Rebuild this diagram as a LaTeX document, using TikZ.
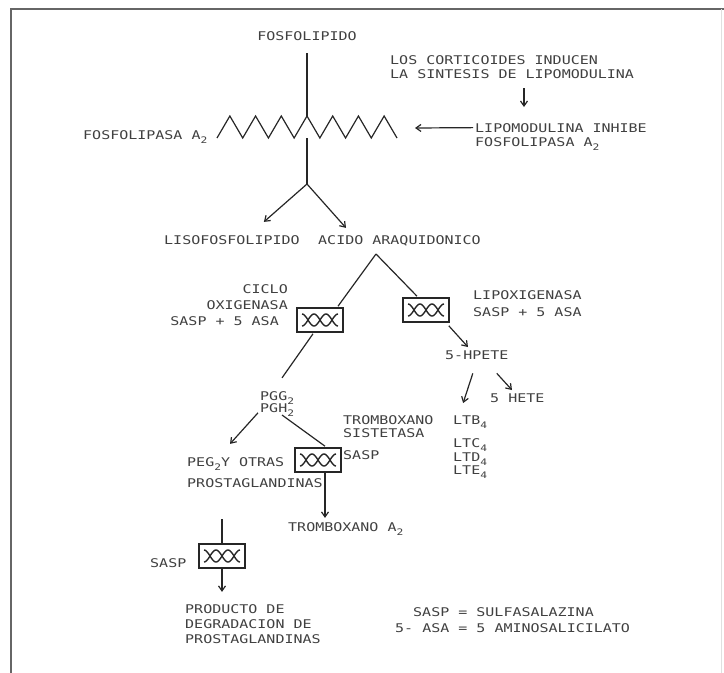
\documentclass[tikz,border=0pt]{standalone}
\usepackage{fontspec}
\usetikzlibrary{arrows.meta,calc}
\newfontfamily\labfont[FakeStretch=1.25]{DejaVu Sans Mono}
\newcommand\lsb[1]{\raisebox{-4.5pt}{\fontsize{9}{9}\selectfont #1}}
\newcommand\enzwave[1]{%
  \begin{scope}[shift={(#1.center)}]
    \draw[wav] plot[domain=-18:18,samples=45,smooth] (\x,{6*sin(15*\x)});
    \draw[wav] plot[domain=-18:18,samples=45,smooth] (\x,{-6*sin(15*\x)});
  \end{scope}}
\begin{document}
\begin{tikzpicture}[x=1pt,y=-1pt,
  lab/.style={inner sep=0pt, font=\labfont\fontsize{12}{14}\selectfont, text=black!75},
  ln/.style={draw=black!85, line width=1.2pt},
  arr/.style={ln, -{Straight Barb[length=5pt,width=7pt]}},
  enz/.style={draw=black!85, line width=1.6pt, minimum width=46pt, minimum height=24pt, inner sep=0pt},
  wav/.style={draw=black!85, line width=1.4pt},
  frm/.style={draw=black!60, line width=1.8pt}]
\useasboundingbox (0,0) rectangle (724,673);
% frame
\draw[frm] (11,673) -- (11,9) -- (724,9);
\draw[draw=black!12, line width=1pt] (721,9) -- (721,673);

% texts
\node[lab, anchor=base] (fosfo) at (307,40) {FOSFOLIPIDO};
\node[lab, anchor=base west] (cort1) at (390,64) {LOS CORTICOIDES INDUCEN};
\node[lab, anchor=base west] (cort2) at (390,78) {LA SINTESIS DE LIPOMODULINA};
\node[lab, anchor=base west] (lipo1) at (475,132) {LIPOMODULINA INHIBE};
\node[lab, anchor=base west] (lipo2) at (475,146) {FOSFOLIPASA A\lsb{2}};
\node[lab, anchor=base west] (fla) at (83,139) {FOSFOLIPASA A\lsb{2}};
\node[lab, anchor=base west] (liso) at (164,244) {LISOFOSFOLIPIDO};
\node[lab, anchor=base west] (acido) at (318,244) {ACIDO ARAQUIDONICO};
\node[lab, anchor=base east] (ciclo1) at (288,293) {CICLO};
\node[lab, anchor=base east] (ciclo2) at (288,309) {OXIGENASA};
\node[lab, anchor=base east] (ciclo3) at (279,325) {SASP + 5 ASA};
\node[lab, anchor=base west] (lox1) at (473,299) {LIPOXIGENASA};
\node[lab, anchor=base west] (lox2) at (473,316) {SASP + 5 ASA};
\node[lab, anchor=base west] (hpete) at (445,359) {5-HPETE};
\node[lab, anchor=base west] (hete) at (490,402) {5 HETE};
\node[lab, anchor=base west] (ltb) at (453,424) {LTB\lsb{4}};
\node[lab, anchor=base west] (ltc) at (453,447) {LTC\lsb{4}};
\node[lab, anchor=base west] (ltd) at (453,461) {LTD\lsb{4}};
\node[lab, anchor=base west] (lte) at (453,474) {LTE\lsb{4}};
\node[lab, anchor=base west] (tsin1) at (343,424) {TROMBOXANO};
\node[lab, anchor=base west] (tsin2) at (343,437) {SISTETASA};
\node[lab, anchor=base west] (pgg) at (260,400) {PGG\lsb{2}};
\node[lab, anchor=base west] (pgh) at (260,412) {PGH\lsb{2}};
\node[lab, anchor=base west] (sasp3) at (343,459) {SASP};
\node[lab, anchor=base west] (peg) at (187,466) {PEG\lsb{2}Y OTRAS};
\node[lab, anchor=base west] (prost) at (187,487) {PROSTAGLANDINAS};
\node[lab, anchor=base west] (txa2) at (288,531) {TROMBOXANO A\lsb{2}};
\node[lab, anchor=base west] (sasp4) at (150,567) {SASP};
\node[lab, anchor=base west] (prod1) at (185,613) {PRODUCTO DE};
\node[lab, anchor=base west] (prod2) at (185,628) {DEGRADACION DE};
\node[lab, anchor=base west] (prod3) at (185,643) {PROSTAGLANDINAS};
\node[lab, anchor=base west] (leg1) at (413,616) {SASP = SULFASALAZINA};
\node[lab, anchor=base west] (leg2) at (395,632) {5- ASA = 5 AMINOSALICILATO};

% enzyme boxes
\node[enz] (e1) at (320,320) {};
\node[enz] (e2) at (426,310) {};
\node[enz] (e3) at (318,460) {};
\node[enz] (e4) at (222,556) {};
\enzwave{e1}\enzwave{e2}\enzwave{e3}\enzwave{e4}

% zigzag (fosfolipasa)
\draw[ln, line join=miter] (217,138) \foreach \i in {0,...,6} { -- ({217+25.714*\i+12.857},116) -- ({217+25.714*(\i+1)},138) };

% connectors
\coordinate (zc) at (307,116);
\coordinate (zb) at (307,138);
\coordinate (br) at (307,184);
\coordinate (ind) at (524,107);
\coordinate (inh) at (415,128);
\coordinate (ap) at (376,254);
\draw[ln] ($(fosfo.south)+(0,13)$) -- (zc);
\draw[ln] (zb) -- (br);
\draw[arr] (br) -- ($(liso.north east)+(-36,-13)$);
\draw[arr] (br) -- ($(acido.north west)+(28,-7)$);
\draw[arr] ($(cort2.south west)+(134,10)$) -- (ind);
\draw[arr] ($(lipo1.west)+(-2,0)$) -- (inh);
\draw[ln] (ap) -- ($(e1.north)+(18,-1)$);
\draw[ln] (ap) -- ($(e2.north)+(-9,-1)$);
\draw[ln] ($(e1.south)+(-7,1)$) -- ($(pgg.north west)+(22,-13)$);
\draw[arr] ($(e2.south east)+(-1,3)$) -- ($(hpete.north west)+(23,-3)$);
\draw[arr] ($(hpete.south)+(-4,14)$) -- ($(ltb.north)+(-7,-12)$);
\draw[arr] ($(hpete.south)+(20,14)$) -- ($(hete.north west)+(22,-3)$);
\draw[arr] ($(pgh.west)+(-2,3)$) -- ($(peg.north west)+(43,-13)$);
\draw[ln] ($(pgh.base west)+(22,3)$) -- ($(e3.north)+(7,-1)$);
\draw[arr] ($(e3.south)+(7,0)$) -- ($(txa2.north west)+(37,-4)$);
\draw[ln] ($(e4.north)+(0,-24)$) -- (e4.north);
\draw[arr] (e4.south) -- ($(prod1.north west)+(37,-12)$);
\end{tikzpicture}
\end{document}
